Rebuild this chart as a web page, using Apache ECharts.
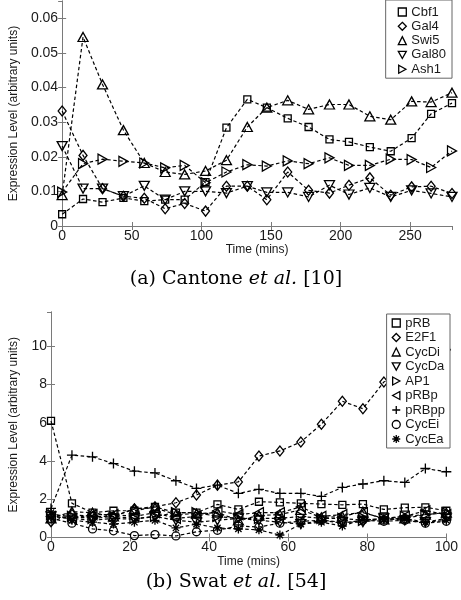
<!DOCTYPE html>
<html><head><meta charset="utf-8">
<script src="https://cdn.jsdelivr.net/npm/echarts@6/dist/echarts.min.js"></script>
<style>html,body{margin:0;padding:0;background:#fff}#c{width:461px;height:600px}</style>
</head><body><div id="c"></div>
<script>
// ---- Panel (a) Cantone et al. ----
const timesA = [0,15,29,44,59,74,88,103,118,133,147,162,177,192,206,221,236,251,265,280];
const namesA = ['Cbf1','Gal4','Swi5','Gal80','Ash1'];
const cbf1  = [0.0034,0.0078,0.0069,0.0081,0.0072,0.0076,0.0076,0.0127,0.0284,0.0366,0.0342,0.0311,0.0286,0.0250,0.0243,0.0228,0.0216,0.0254,0.0324,0.0355];
const gal4  = [0.0332,0.0204,0.0108,0.0086,0.0080,0.0050,0.0065,0.0043,0.0115,0.0115,0.0076,0.0156,0.0103,0.0095,0.0118,0.0139,0.0089,0.0113,0.0115,0.0094];
const swi5  = [0.0089,0.0546,0.0409,0.0277,0.0182,0.0156,0.0149,0.0159,0.0190,0.0286,0.0342,0.0363,0.0337,0.0351,0.0351,0.0317,0.0307,0.0360,0.0358,0.0385];
const gal80 = [0.0231,0.0108,0.0108,0.0086,0.0116,0.0076,0.0100,0.0100,0.0095,0.0115,0.0097,0.0097,0.0084,0.0118,0.0091,0.0110,0.0084,0.0103,0.0094,0.0084];
const ash1  = [0.0098,0.0180,0.0193,0.0187,0.0182,0.0168,0.0175,0.0125,0.0156,0.0177,0.0173,0.0188,0.0180,0.0197,0.0175,0.0175,0.0193,0.0192,0.0169,0.0217];
const valuesA = [cbf1, gal4, swi5, gal80, ash1];

// ---- Panel (b) Swat et al. ----
const timesB = [0,5.3,10.5,15.8,21.1,26.3,31.6,36.8,42.1,47.4,52.6,57.9,63.2,68.4,73.7,78.9,84.2,89.5,94.7,100];
const namesB = ['pRB','E2F1','CycDi','CycDa','AP1','pRBp','pRBpp','CycEi','CycEa'];
const pRB   = [6.1,1.79,1.3,1.4,1.4,1.6,1.3,1.3,1.73,1.47,1.87,1.84,1.79,1.75,1.71,1.75,1.47,1.56,1.58,1.4];
const e2f1  = [0.83,1.2,1.1,1.1,1.5,1.61,1.82,2.22,2.74,2.91,4.26,4.53,5.0,5.93,7.13,6.74,8.14,8.6,9.2,9.83];
const cycDi = [1.0,1.35,1.3,1.1,1.5,1.55,1.2,1.25,1.3,0.9,1.15,1.2,1.45,1.05,1.1,1.35,0.95,1.0,1.2,1.3];
const cycDa = [1.1,1.0,0.9,1.0,0.95,1.1,0.9,0.8,0.9,1.0,0.9,0.8,0.7,0.9,0.8,0.8,1.0,0.9,0.8,1.0];
const ap1   = [1.2,1.1,1.0,1.1,1.0,1.1,1.3,1.3,1.1,1.0,1.0,1.0,1.1,1.0,1.0,0.9,1.0,1.1,1.2,1.3];
const pRBp  = [1.1,1.0,1.2,1.2,1.1,1.3,1.0,1.1,1.4,1.2,1.3,1.3,1.6,1.1,1.2,1.3,1.0,1.1,1.4,1.2];
const pRBpp = [1.52,4.31,4.22,3.87,3.47,3.38,2.97,2.57,2.74,2.31,2.52,2.31,2.31,2.15,2.62,2.8,2.97,2.88,3.61,3.44];
const cycEi = [1.0,0.75,0.45,0.35,0.1,0.15,0.08,0.3,0.38,0.6,0.55,0.75,0.85,0.9,0.75,0.9,0.85,0.9,0.75,0.85];
const cycEa = [1.3,0.9,0.8,0.7,0.8,0.9,0.5,0.7,0.5,0.45,0.4,0.13,0.7,0.8,0.6,0.95,0.95,1.0,0.8,0.9];
const valuesB = [pRB, e2f1, cycDi, cycDa, ap1, pRBp, pRBpp, cycEi, cycEa];

// marker shapes
const SYM = {
  square: 'rect',
  diamond: 'diamond',
  tup: 'triangle',
  tdown: 'path://M0,0 L10,0 L5,9 Z',
  tright: 'path://M0,0 L9,5 L0,10 Z',
  tleft: 'path://M9,0 L0,5 L9,10 Z',
  plus: 'path://M5,0 L5,10 M0,5 L10,5',
  circle: 'circle',
  star: 'path://M5,0 L5,10 M0,5 L10,5 M1.5,1.5 L8.5,8.5 M8.5,1.5 L1.5,8.5'
};
const SIZE = {square:7, diamond:[8,10], tup:[10,9], tdown:[10,9], tright:[9,10], tleft:[9,10], plus:10, circle:8, star:9};
const shapesA = ['square','diamond','tup','tdown','tright'];
const shapesB = ['square','diamond','tup','tdown','tright','tleft','plus','circle','star'];

const FONT = 'Liberation Sans';
const FRAME = '#7a7a7a';

function mkSeries(names, times, vals, shapes, xi, yi) {
  return names.map((n, i) => ({
    name: n, type: 'line', xAxisIndex: xi, yAxisIndex: yi,
    data: times.map((t, j) => [t, vals[i][j]]),
    symbol: SYM[shapes[i]], symbolSize: SIZE[shapes[i]],
    showAllSymbol: true,
    itemStyle: {color: 'rgba(0,0,0,0)', borderColor: '#000', borderWidth: 1.3},
    lineStyle: {color: '#000', width: 1.2, type: [3.5, 2.5]},
    emphasis: {disabled: true}, z: 2
  }));
}

function axisPair(gridIndex, min, max, interval, isX, showMax) {
  const common = {
    gridIndex, type: 'value', min, max, interval,
    axisLine: {show: true, lineStyle: {color: FRAME, width: 1}},
    axisTick: {show: true, inside: true, length: 4, lineStyle: {color: FRAME}},
    splitLine: {show: false}
  };
  const main = Object.assign({}, common, {
    position: isX ? 'bottom' : 'left',
    axisLabel: {show: true, fontFamily: FONT, fontSize: 14, color: '#1a1a1a', margin: isX ? 3 : 4, showMaxLabel: showMax,
      formatter: v => isX ? String(v) : (v === 0 ? '0' : (interval < 1 ? v.toFixed(2) : String(v)))}
  });
  const other = Object.assign({}, common, {position: isX ? 'top' : 'right', axisLabel: {show: false}});
  return [main, other];
}

const [xa0, xa1] = axisPair(0, 0, 280, 50, true, false);
const [ya0, ya1] = axisPair(0, 0, 0.065, 0.01, false, false);
const [xb0, xb1] = axisPair(1, 0, 100, 20, true, true);
const [yb0, yb1] = axisPair(1, 0, 11.8, 2, false, false);
const nameStyle = {fontFamily: FONT, fontSize: 12, color: '#1a1a1a'};
Object.assign(xa0, {name: 'Time (mins)', nameLocation: 'middle', nameGap: 15, nameTextStyle: nameStyle});
Object.assign(xb0, {name: 'Time (mins)', nameLocation: 'middle', nameGap: 14, nameTextStyle: nameStyle});
Object.assign(ya0, {name: 'Expression Level (arbitrary units)', nameLocation: 'middle', nameGap: 31, nameTextStyle: nameStyle});
Object.assign(yb0, {name: 'Expression Level (arbitrary units)', nameLocation: 'middle', nameGap: 31, nameTextStyle: nameStyle});

function legendFor(names, shapes, right, top, padding, gap) {
  return {
    orient: 'vertical', right, top, padding,
    itemWidth: 8, itemHeight: 8, itemGap: gap,
    backgroundColor: '#fff', borderColor: '#666', borderWidth: 1,
    textStyle: {fontFamily: FONT, fontSize: 13, color: '#1a1a1a', lineHeight: 14},
    itemStyle: {color: 'rgba(0,0,0,0)', borderColor: '#000', borderWidth: 1.3},
    selectedMode: false,
    data: names.map((n, i) => ({name: n, icon: SYM[shapes[i]]}))
  };
}

const serifRich = {
  n: {fontFamily: 'DejaVu Serif', fontSize: 19, color: '#111'},
  i: {fontFamily: 'DejaVu Serif', fontStyle: 'italic', fontSize: 19, color: '#111'},
  b: {fontFamily: 'DejaVu Serif', fontSize: 19, color: '#1a1ae6'}
};

const chart = echarts.init(document.getElementById('c'), null, {renderer: 'canvas'});
chart.setOption({
  animation: false,
  backgroundColor: '#fff',
  grid: [
    {left: 40, top: 1, width: 412, height: 225},
    {left: 40, top: 312, width: 410, height: 225.5}
  ],
  xAxis: [xa0, xa1, xb0, xb1],
  yAxis: [ya0, ya1, yb0, yb1],
  legend: [
    legendFor(namesA, shapesA, 9, 0, [5, 6, 2, 12], 0.3),
    legendFor(namesB, shapesB, 11, 314, [2, 5, 2, 5], 0.5)
  ],
  series: [].concat(
    mkSeries(namesA, timesA, valuesA, shapesA, 0, 0),
    mkSeries(namesB, timesB, valuesB, shapesB, 2, 2)
  ),
  graphic: [
    {type: 'text', x: 236, y: 279, style: {text: '{n|(a) Cantone }{i|et al.}{n| [}{b|10}{n|]}', rich: serifRich, align: 'center', verticalAlign: 'middle'}},
    {type: 'text', x: 236, y: 582, style: {text: '{n|(b) Swat }{i|et al.}{n| [}{b|54}{n|]}', rich: serifRich, align: 'center', verticalAlign: 'middle'}}
  ]
});
</script>
</body></html>
